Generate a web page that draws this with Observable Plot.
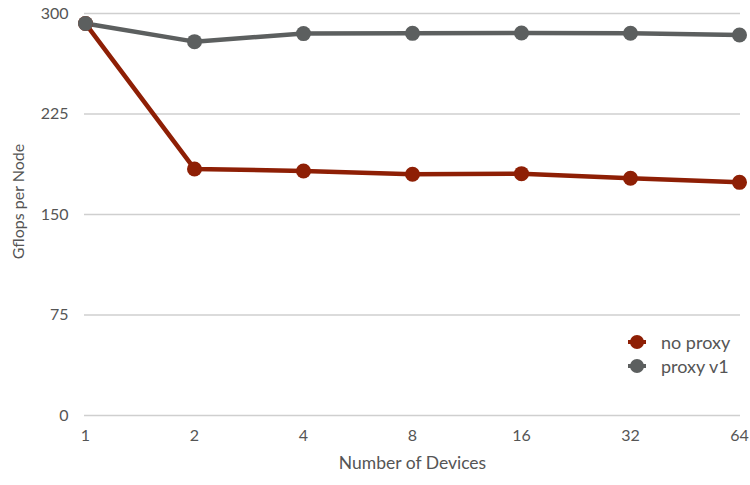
<!DOCTYPE html>
<html>
<head>
<meta charset="utf-8">
<script src="https://cdn.jsdelivr.net/npm/d3@7"></script>
<script src="https://cdn.jsdelivr.net/npm/@observablehq/plot@0.6"></script>
<style>
  html, body { margin: 0; padding: 0; background: #fff; }
  #wrap { position: relative; width: 750px; height: 485px; font-family: Lato, "Open Sans", sans-serif; }
  .legend { position: absolute; left: 627px; top: 330px; font-size: 18px; color: #555; line-height: 24px; }
  .legend div { display: flex; align-items: center; height: 24px; }
  .legend svg { margin-right: 14px; }
</style>
</head>
<body>
<div id="wrap"></div>
<script>
const devices = ["1", "2", "4", "8", "16", "32", "64"];
const noProxy = [292.5, 184, 182.5, 180, 180.5, 177, 174];
const proxyV1 = [292.5, 279, 285, 285.2, 285.5, 285.3, 284];
const yTicks = [0, 75, 150, 225, 300];
const seriesNames = ["no proxy", "proxy v1"];
const seriesColors = ["#8e1f05", "#5c5f5f"];
const xTitle = "Number of Devices";
const yTitle = "Gflops per Node";

const data = [];
devices.forEach((d, i) => {
  data.push({device: d, value: noProxy[i], series: seriesNames[0]});
  data.push({device: d, value: proxyV1[i], series: seriesNames[1]});
});

const chart = Plot.plot({
  width: 750,
  height: 485,
  marginLeft: 84,
  marginRight: 10,
  marginTop: 13,
  marginBottom: 70,
  style: {fontFamily: "Lato, 'Open Sans', sans-serif", fontSize: "16px", color: "#555", background: "#fff"},
  x: {type: "point", domain: devices, padding: 0},
  y: {domain: [0, 300]},
  color: {domain: seriesNames, range: seriesColors},
  marks: [
    Plot.gridY(yTicks, {stroke: "#cfcfcf", strokeOpacity: 1, strokeWidth: 1.5}),
    Plot.axisY(yTicks, {tickSize: 0, tickPadding: 16, fontSize: 16, fill: "#555", label: null}),
    Plot.axisX({tickSize: 0, tickPadding: 14, fontSize: 16, fill: "#555", label: null}),
    Plot.text([xTitle], {text: d => d, frameAnchor: "bottom", dy: 53, fontSize: 17.5, fill: "#555"}),
    Plot.text([yTitle], {text: d => d, frameAnchor: "left", textAnchor: "middle", lineAnchor: "middle", rotate: -90, dx: -66, dy: -13, fontSize: 16, fill: "#555"}),
    Plot.line(data, {x: "device", y: "value", z: "series", stroke: "series", strokeWidth: 4.5}),
    Plot.dot(data, {x: "device", y: "value", fill: "series", r: 7.5})
  ]
});
document.getElementById("wrap").appendChild(chart);

const legend = document.createElement("div");
legend.className = "legend";
seriesNames.forEach((name, i) => {
  const row = document.createElement("div");
  row.innerHTML = `<svg width="20" height="16"><line x1="1" x2="19" y1="8" y2="8" stroke="${seriesColors[i]}" stroke-width="4"/><circle cx="10" cy="8" r="7" fill="${seriesColors[i]}"/></svg><span>${name}</span>`;
  legend.appendChild(row);
});
document.getElementById("wrap").appendChild(legend);
</script>
</body>
</html>
